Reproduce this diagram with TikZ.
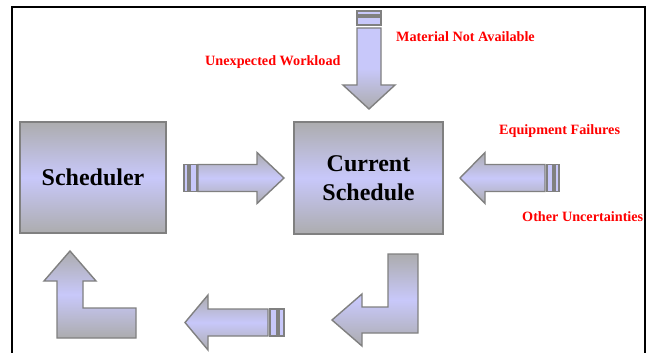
\documentclass[tikz,border=0pt]{standalone}
\usepackage{fontspec}
\setmainfont{Liberation Serif}
\begin{document}
\begin{tikzpicture}[x=1pt,y=-1pt]
\definecolor{edgegray}{RGB}{128,128,128}
\definecolor{shadegray}{RGB}{172,172,174}
\definecolor{lav}{RGB}{200,200,250}
\definecolor{labelred}{RGB}{255,0,0}
\tikzset{
  panel/.style={draw=edgegray, line width=1.5pt, top color=shadegray, bottom color=shadegray, middle color=lav,
    font=\bfseries\fontsize{24}{29.5}\selectfont, align=center, inner sep=0pt},
  blockarrow/.style={draw=edgegray, line width=1.4pt, top color=shadegray, bottom color=shadegray, middle color=lav},
  downarrow/.style={draw=edgegray, line width=1.4pt, top color=lav, bottom color=shadegray, middle color=lav},
  stripe/.style={draw=edgegray, line width=1.2pt, fill=lav},
  cause/.style={text=labelred, font=\bfseries\fontsize{14.2}{17}\selectfont, inner sep=0pt, anchor=base west},
}
\useasboundingbox (0,0) rectangle (651,353);
\fill[white] (0,0) rectangle (651,353);
% open frame
\draw[line width=2pt] (12,353) -- (12,7) -- (645,7) -- (645,353);

% the two main blocks
\node[panel, minimum width=146pt, minimum height=111pt] (sched) at (93,177.5) {Scheduler};
\node[panel, minimum width=149pt, minimum height=112pt] (cur) at (368.5,178) {Current\\Schedule};

% downward arrow with striped tail
\draw[stripe] (357,11) rectangle (381,15);
\draw[stripe] (357,17) rectangle (381,25);
\shade[downarrow] (357,28) -- (381,28) -- (381,85) -- (395,85) -- (369,109) -- (343,85) -- (357,85) -- cycle;

% scheduler -> current schedule
\draw[stripe] (184,164.5) rectangle (188,191.5);
\draw[stripe] (190,164.5) rectangle (197,191.5);
\shade[blockarrow] (198,164.5) -- (257,164.5) -- (257,152.5) -- (284,178) -- (257,203.5) -- (257,191.5) -- (198,191.5) -- cycle;

% arrow from the right
\draw[stripe] (547,164.5) rectangle (553,191.5);
\draw[stripe] (555,164.5) rectangle (559,191.5);
\shade[blockarrow] (545,164.5) -- (485,164.5) -- (485,152.5) -- (460,178) -- (485,203.5) -- (485,191.5) -- (545,191.5) -- cycle;

% feedback loop along the bottom
\shade[blockarrow] (388,254) -- (418,254) -- (418,333) -- (362,333) -- (362,346) -- (332,320) -- (362,294) -- (362,307) -- (388,307) -- cycle;
\draw[stripe] (270,309) rectangle (277,336);
\draw[stripe] (279,309) rectangle (284,336);
\shade[blockarrow] (268,309) -- (208,309) -- (208,295) -- (185,322.5) -- (208,350) -- (208,336) -- (268,336) -- cycle;
\shade[blockarrow] (70,251) -- (96,281) -- (83,281) -- (83,308) -- (136,308) -- (136,338) -- (57,338) -- (57,281) -- (44,281) -- cycle;

% disturbance labels
\node[cause] (mat) at (396,42) {Material Not Available};
\node[cause] (unx) at (205,66) {Unexpected Workload};
\node[cause] (eqp) at (499,134) {Equipment Failures};
\node[cause] (oth) at (522,221) {Other Uncertainties};
\end{tikzpicture}
\end{document}
